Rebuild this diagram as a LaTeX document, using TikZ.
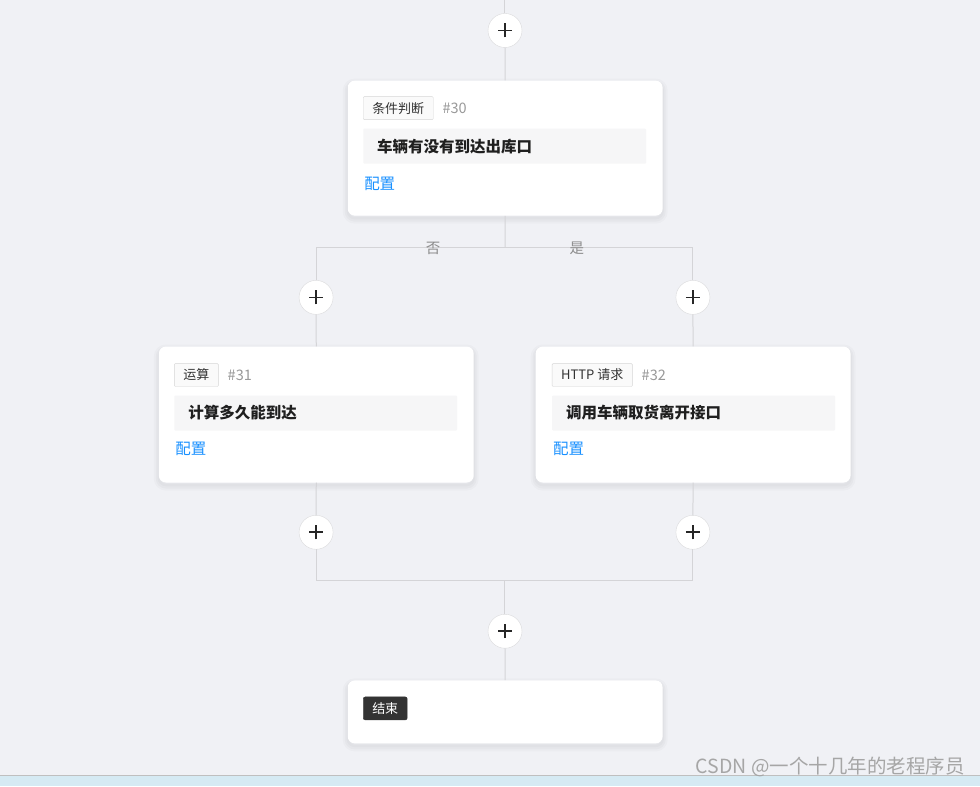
\documentclass[tikz,border=0pt]{standalone}
\usepackage{fontspec}
\newfontfamily\cjk{Noto Sans CJK SC}
\usetikzlibrary{positioning}
\definecolor{canvas}{RGB}{240,241,245}
\definecolor{wire}{RGB}{212,212,215}
\definecolor{ring}{RGB}{218,218,220}
\definecolor{titlebg}{RGB}{246,246,247}
\definecolor{linkblue}{RGB}{24,144,255}
\definecolor{idgray}{RGB}{153,153,153}
\definecolor{tagline}{RGB}{214,214,214}
\definecolor{darktag}{RGB}{51,51,51}
\definecolor{strip}{RGB}{213,234,243}

\begin{document}
\begin{tikzpicture}[x=1pt,y=-1pt,
    node distance=9pt,
    softshadow/.style={
        preaction={draw=black,draw opacity=.02,line width=10pt,transform canvas={yshift=-3pt}},
        preaction={draw=black,draw opacity=.025,line width=6pt,transform canvas={yshift=-3pt}},
        preaction={draw=black,draw opacity=.02,line width=2.5pt,transform canvas={yshift=-2.5pt}}},
    card/.style={fill=white,rounded corners=7pt,minimum width=315pt,inner sep=0pt,softshadow},
    tag/.style={draw=tagline,fill=white!98!black,rounded corners=1pt,minimum height=23pt,
        inner xsep=9pt,inner ysep=0pt,text=darktag,font=\cjk\fontsize{13}{15}\selectfont},
    endtag/.style={tag,draw=darktag,fill=darktag,text=white,rounded corners=2pt},
    idtext/.style={inner sep=0pt,text=idgray,font=\cjk\fontsize{14.5}{16}\selectfont},
    titlebox/.style={fill=titlebg,rounded corners=1pt,minimum height=35pt,text width=255pt,
        inner xsep=14pt,inner ysep=0pt,align=left,text=black!88,
        font=\cjk\bfseries\fontsize{15.5}{18}\selectfont},
    link/.style={inner sep=0pt,text=linkblue,font=\cjk\fontsize{15.5}{18}\selectfont},
    branch/.style={inner sep=0pt,text=black!45,font=\cjk\fontsize{14.5}{16}\selectfont},
    plus/.style={circle,draw=ring,fill=white,minimum size=34pt,inner sep=0pt,
        path picture={\draw[line width=1.6pt,black!85]
            ([xshift=-7pt]path picture bounding box.center) -- ([xshift=7pt]path picture bounding box.center)
            ([yshift=-7pt]path picture bounding box.center) -- ([yshift=7pt]path picture bounding box.center);}},
    wire/.style={draw=wire,line width=1pt}
]
% canvas and bottom strip
\path[fill=canvas] (0,0) rectangle (980,786);
\fill[strip] (0,775) rectangle (980,786);
\draw[black!25] (0,775.5) -- (980,775.5);

% junction points
\coordinate (top) at (505,0);
\coordinate (split) at (505,247);
\coordinate (splitL) at (316,247);
\coordinate (splitR) at (693,247);
\coordinate (join) at (505,580);
\coordinate (joinL) at (316,580);
\coordinate (joinR) at (693,580);

% add buttons
\node[plus] (p0) at (505,30) {};
\node[plus] (pl1) at (316,297) {};
\node[plus] (pr1) at (693,297) {};
\node[plus] (pl2) at (316,532) {};
\node[plus] (pr2) at (693,532) {};
\node[plus] (p3) at (505,631) {};

% condition card
\node[card,minimum height=135pt,anchor=north west] (cond) at (347.5,80) {};
\node[tag,anchor=north west] (condtag) at (363,96) {条件判断};
\node[idtext,right=of condtag] (condid) {\#30};
\node[titlebox,anchor=north west] (condtitle) at (363,128) {车辆有没有到达出库口};
\node[link,anchor=west] (condcfg) at (364,183) {配置};

% left branch card
\node[card,minimum height=136pt,anchor=north west] (calc) at (158.5,346) {};
\node[tag,anchor=north west] (calctag) at (174,363) {运算};
\node[idtext,right=of calctag] (calcid) {\#31};
\node[titlebox,anchor=north west] (calctitle) at (174,395) {计算多久能到达};
\node[link,anchor=west] (calccfg) at (175,449) {配置};

% right branch card
\node[card,minimum height=136pt,anchor=north west] (http) at (535.5,346) {};
\node[tag,anchor=north west] (httptag) at (552,363) {HTTP 请求};
\node[idtext,right=of httptag] (httpid) {\#32};
\node[titlebox,anchor=north west] (httptitle) at (552,395) {调用车辆取货离开接口};
\node[link,anchor=west] (httpcfg) at (553,449) {配置};

% end card
\node[card,minimum height=63pt,anchor=north west] (finish) at (347.5,680) {};
\node[endtag,anchor=north west] (finishtag) at (363,696.5) {结束};

% connectors
\draw[wire] (top) -- (p0.north);
\draw[wire] (p0.south) -- (cond.north);
\draw[wire] (cond.south) -- (split);
\draw[wire] (splitL) -- (splitR);
\draw[wire] (splitL) -- (pl1.north);
\draw[wire] (pl1.south) -- (calc.north);
\draw[wire] (splitR) -- (pr1.north);
\draw[wire] (pr1.south) -- (http.north);
\draw[wire] (calc.south) -- (pl2.north);
\draw[wire] (pl2.south) -- (joinL);
\draw[wire] (http.south) -- (pr2.north);
\draw[wire] (pr2.south) -- (joinR);
\draw[wire] (joinL) -- (joinR);
\draw[wire] (join) -- (p3.north);
\draw[wire] (p3.south) -- (finish.north);

% branch labels
\node[branch] (nolabel) at (433,248) {否};
\node[branch] (yeslabel) at (577,248) {是};

% watermark
\node[anchor=east,inner sep=0pt,text=black!35,font=\cjk\fontsize{19.5}{22}\selectfont] (mark) at (965,767) {CSDN @一个十几年的老程序员};
\end{tikzpicture}
\end{document}
